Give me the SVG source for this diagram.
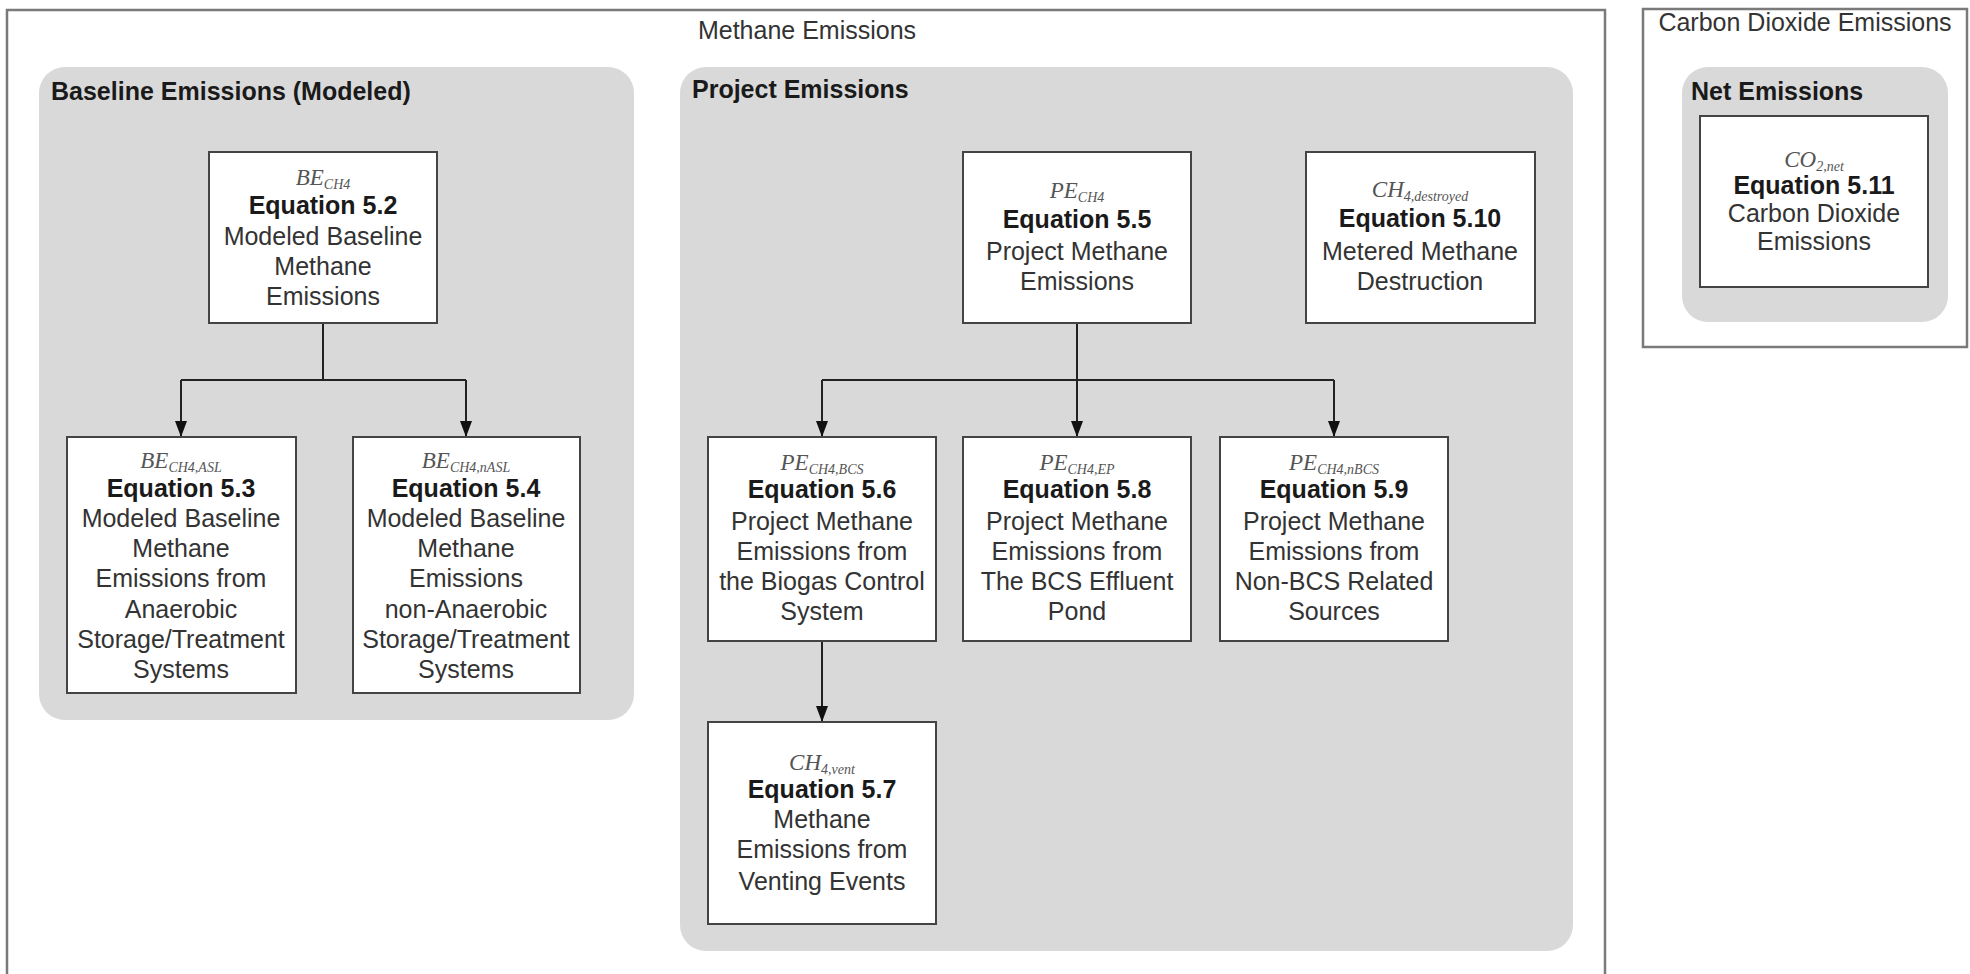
<svg xmlns="http://www.w3.org/2000/svg" width="1970" height="974" viewBox="0 0 1970 974">
<defs>
<style>
.frame{fill:#fff;stroke:#7a7a7a;stroke-width:2.5}
.panel{fill:#d9d9d9;stroke:none}
.node{fill:#fff;stroke:#444;stroke-width:2}
.hdr{font-family:"Liberation Sans",Arial,sans-serif;font-size:25px;fill:#333}
.ptitle{font-family:"Liberation Sans",Arial,sans-serif;font-size:25px;font-weight:bold;fill:#1a1a1a}
.t{font-family:"Liberation Sans",Arial,sans-serif;font-size:25px;fill:#333;text-anchor:middle}
.eq{font-family:"Liberation Sans",Arial,sans-serif;font-size:25px;font-weight:bold;fill:#1a1a1a;text-anchor:middle}
.v{font-family:"Liberation Serif","Times New Roman",serif;font-size:23px;font-style:italic;fill:#555;text-anchor:middle}
.sub{font-size:14px}
.conn{fill:none;stroke:#222;stroke-width:2}
</style>
<marker id="arr" markerUnits="userSpaceOnUse" viewBox="0 0 16 12" refX="16" refY="6" markerWidth="16" markerHeight="12" orient="auto">
<path d="M0,0 L16,6 L0,12 z" fill="#111"/>
</marker>
</defs>
<rect x="0" y="0" width="1970" height="974" fill="#fff"/>

<g id="methane-frame">
<rect class="frame" x="7" y="10" width="1598" height="980"/>
<text class="hdr" x="807" y="39" text-anchor="middle">Methane Emissions</text>
</g>
<g id="co2-frame">
<rect class="frame" x="1643" y="9" width="324" height="338"/>
<text class="hdr" x="1805" y="31" text-anchor="middle">Carbon Dioxide Emissions</text>
</g>

<g id="baseline-panel">
<rect class="panel" x="39" y="67" width="595" height="653" rx="26"/>
<text class="ptitle" x="51" y="100">Baseline Emissions (Modeled)</text>
</g>
<g id="project-panel">
<rect class="panel" x="680" y="67" width="893" height="884" rx="26"/>
<text class="ptitle" x="692" y="98">Project Emissions</text>
</g>
<g id="net-panel">
<rect class="panel" x="1682" y="67" width="266" height="255" rx="26"/>
<text class="ptitle" x="1691" y="100">Net Emissions</text>
</g>

<g id="connectors">
<path class="conn" d="M323,323 V380"/>
<path class="conn" d="M181,380 H466"/>
<path class="conn" d="M181,380 V437" marker-end="url(#arr)"/>
<path class="conn" d="M466,380 V437" marker-end="url(#arr)"/>
<path class="conn" d="M1077,323 V380"/>
<path class="conn" d="M822,380 H1334"/>
<path class="conn" d="M822,380 V437" marker-end="url(#arr)"/>
<path class="conn" d="M1077,380 V437" marker-end="url(#arr)"/>
<path class="conn" d="M1334,380 V437" marker-end="url(#arr)"/>
<path class="conn" d="M822,641 V722" marker-end="url(#arr)"/>
</g>

<g id="eq52">
<rect class="node" x="209" y="152" width="228" height="171"/>
<text class="v" x="323" y="185">BE<tspan class="sub" dy="4">CH4</tspan></text>
<text class="eq" x="323" y="214">Equation 5.2</text>
<text class="t" x="323" y="245">Modeled Baseline</text>
<text class="t" x="323" y="275">Methane</text>
<text class="t" x="323" y="305">Emissions</text>
</g>

<g id="eq53">
<rect class="node" x="67" y="437" width="229" height="256"/>
<text class="v" x="181" y="468">BE<tspan class="sub" dy="4">CH4,ASL</tspan></text>
<text class="eq" x="181" y="497">Equation 5.3</text>
<text class="t" x="181" y="527">Modeled Baseline</text>
<text class="t" x="181" y="557">Methane</text>
<text class="t" x="181" y="587">Emissions from</text>
<text class="t" x="181" y="618">Anaerobic</text>
<text class="t" x="181" y="648">Storage/Treatment</text>
<text class="t" x="181" y="678">Systems</text>
</g>

<g id="eq54">
<rect class="node" x="353" y="437" width="227" height="256"/>
<text class="v" x="466" y="468">BE<tspan class="sub" dy="4">CH4,nASL</tspan></text>
<text class="eq" x="466" y="497">Equation 5.4</text>
<text class="t" x="466" y="527">Modeled Baseline</text>
<text class="t" x="466" y="557">Methane</text>
<text class="t" x="466" y="587">Emissions</text>
<text class="t" x="466" y="618">non-Anaerobic</text>
<text class="t" x="466" y="648">Storage/Treatment</text>
<text class="t" x="466" y="678">Systems</text>
</g>

<g id="eq55">
<rect class="node" x="963" y="152" width="228" height="171"/>
<text class="v" x="1077" y="198">PE<tspan class="sub" dy="4">CH4</tspan></text>
<text class="eq" x="1077" y="228">Equation 5.5</text>
<text class="t" x="1077" y="260">Project Methane</text>
<text class="t" x="1077" y="290">Emissions</text>
</g>

<g id="eq510">
<rect class="node" x="1306" y="152" width="229" height="171"/>
<text class="v" x="1420" y="197">CH<tspan class="sub" dy="4">4,destroyed</tspan></text>
<text class="eq" x="1420" y="227">Equation 5.10</text>
<text class="t" x="1420" y="260">Metered Methane</text>
<text class="t" x="1420" y="290">Destruction</text>
</g>

<g id="eq56">
<rect class="node" x="708" y="437" width="228" height="204"/>
<text class="v" x="822" y="470">PE<tspan class="sub" dy="4">CH4,BCS</tspan></text>
<text class="eq" x="822" y="498">Equation 5.6</text>
<text class="t" x="822" y="530">Project Methane</text>
<text class="t" x="822" y="560">Emissions from</text>
<text class="t" x="822" y="590">the Biogas Control</text>
<text class="t" x="822" y="620">System</text>
</g>

<g id="eq58">
<rect class="node" x="963" y="437" width="228" height="204"/>
<text class="v" x="1077" y="470">PE<tspan class="sub" dy="4">CH4,EP</tspan></text>
<text class="eq" x="1077" y="498">Equation 5.8</text>
<text class="t" x="1077" y="530">Project Methane</text>
<text class="t" x="1077" y="560">Emissions from</text>
<text class="t" x="1077" y="590">The BCS Effluent</text>
<text class="t" x="1077" y="620">Pond</text>
</g>

<g id="eq59">
<rect class="node" x="1220" y="437" width="228" height="204"/>
<text class="v" x="1334" y="470">PE<tspan class="sub" dy="4">CH4,nBCS</tspan></text>
<text class="eq" x="1334" y="498">Equation 5.9</text>
<text class="t" x="1334" y="530">Project Methane</text>
<text class="t" x="1334" y="560">Emissions from</text>
<text class="t" x="1334" y="590">Non-BCS Related</text>
<text class="t" x="1334" y="620">Sources</text>
</g>

<g id="eq57">
<rect class="node" x="708" y="722" width="228" height="202"/>
<text class="v" x="822" y="770">CH<tspan class="sub" dy="4">4,vent</tspan></text>
<text class="eq" x="822" y="798">Equation 5.7</text>
<text class="t" x="822" y="828">Methane</text>
<text class="t" x="822" y="858">Emissions from</text>
<text class="t" x="822" y="890">Venting Events</text>
</g>

<g id="eq511">
<rect class="node" x="1700" y="116" width="228" height="171"/>
<text class="v" x="1814" y="167">CO<tspan class="sub" dy="4">2,net</tspan></text>
<text class="eq" x="1814" y="194">Equation 5.11</text>
<text class="t" x="1814" y="222">Carbon Dioxide</text>
<text class="t" x="1814" y="250">Emissions</text>
</g>
</svg>
